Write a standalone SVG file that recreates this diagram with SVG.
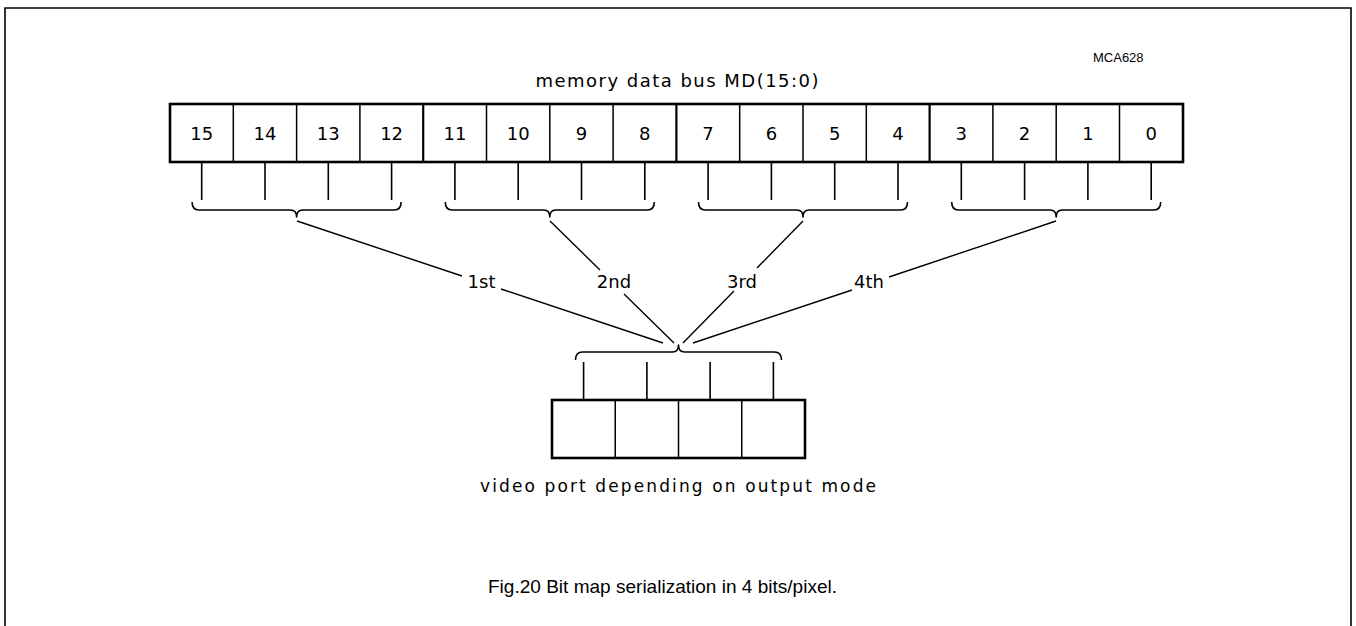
<svg xmlns="http://www.w3.org/2000/svg" width="1356" height="626" viewBox="0 0 1356 626">
<style>
.t{font-family:"DejaVu Sans","Liberation Sans",sans-serif;fill:#000}
.num{font-size:18px;text-anchor:middle}
.lbl{font-size:18px;text-anchor:middle}
.cap{font-family:"Liberation Sans",Arial,sans-serif;font-size:19px;fill:#000}
.outer{fill:#fff;stroke:#000;stroke-width:2.6}
.div{stroke:#000;stroke-width:1.5}
.gdiv{stroke:#000;stroke-width:2.2}
.tick{stroke:#000;stroke-width:1.6}
.brace{fill:none;stroke:#000;stroke-width:1.6;stroke-linejoin:round}
.conn{stroke:#000;stroke-width:1.4;fill:none}
</style>
<rect x="0" y="0" width="1356" height="626" fill="#fff"/>
<path d="M5,640 L5,8 L1351,8 L1351,640" fill="none" stroke="#000" stroke-width="1.6"/>
<text x="1093" y="62" style="font-family:'Liberation Sans',Arial,sans-serif;font-size:13px;fill:#000">MCA628</text>

<g id="memory-bus">
<text class="t" x="677" y="87" font-size="18" text-anchor="middle" textLength="283" lengthAdjust="spacing">memory data bus MD(15:0)</text>
<rect class="outer" x="170" y="104" width="1013" height="58"/>
<g>
<line class="div" x1="233.3" y1="104" x2="233.3" y2="162"/>
<line class="div" x1="296.6" y1="104" x2="296.6" y2="162"/>
<line class="div" x1="359.9" y1="104" x2="359.9" y2="162"/>
<line class="gdiv" x1="423.2" y1="104" x2="423.2" y2="162"/>
<line class="div" x1="486.5" y1="104" x2="486.5" y2="162"/>
<line class="div" x1="549.8" y1="104" x2="549.8" y2="162"/>
<line class="div" x1="613.1" y1="104" x2="613.1" y2="162"/>
<line class="gdiv" x1="676.4" y1="104" x2="676.4" y2="162"/>
<line class="div" x1="739.7" y1="104" x2="739.7" y2="162"/>
<line class="div" x1="803" y1="104" x2="803" y2="162"/>
<line class="div" x1="866.3" y1="104" x2="866.3" y2="162"/>
<line class="gdiv" x1="929.6" y1="104" x2="929.6" y2="162"/>
<line class="div" x1="992.9" y1="104" x2="992.9" y2="162"/>
<line class="div" x1="1056.2" y1="104" x2="1056.2" y2="162"/>
<line class="div" x1="1119.5" y1="104" x2="1119.5" y2="162"/>
</g>
<g class="t num">
<text x="201.7" y="140">15</text>
<text x="265" y="140">14</text>
<text x="328.3" y="140">13</text>
<text x="391.6" y="140">12</text>
<text x="454.9" y="140">11</text>
<text x="518.2" y="140">10</text>
<text x="581.5" y="140">9</text>
<text x="644.8" y="140">8</text>
<text x="708.1" y="140">7</text>
<text x="771.4" y="140">6</text>
<text x="834.7" y="140">5</text>
<text x="898" y="140">4</text>
<text x="961.3" y="140">3</text>
<text x="1024.6" y="140">2</text>
<text x="1087.9" y="140">1</text>
<text x="1151.2" y="140">0</text>
</g>
</g>

<g id="group-1">
<path class="tick" d="M201.7,162V200M265,162V200M328.3,162V200M391.6,162V200"/>
<path class="brace" d="M192.1,202 Q192.1,210 199,210 L290.6,210 Q296.6,210 296.6,217 Q296.6,210 302.6,210 L394.2,210 Q401.1,210 401.1,202"/>
</g>
<g id="group-2">
<path class="tick" d="M454.9,162V200M518.2,162V200M581.5,162V200M644.8,162V200"/>
<path class="brace" d="M445.3,202 Q445.3,210 452.2,210 L543.8,210 Q549.8,210 549.8,217 Q549.8,210 555.8,210 L647.4,210 Q654.3,210 654.3,202"/>
</g>
<g id="group-3">
<path class="tick" d="M708.1,162V200M771.4,162V200M834.7,162V200M898,162V200"/>
<path class="brace" d="M698.5,202 Q698.5,210 705.4,210 L797,210 Q803,210 803,217 Q803,210 809,210 L900.6,210 Q907.5,210 907.5,202"/>
</g>
<g id="group-4">
<path class="tick" d="M961.3,162V200M1024.6,162V200M1087.9,162V200M1151.2,162V200"/>
<path class="brace" d="M951.7,202 Q951.7,210 958.6,210 L1050.2,210 Q1056.2,210 1056.2,217 Q1056.2,210 1062.2,210 L1153.8,210 Q1160.7,210 1160.7,202"/>
</g>

<g id="connectors">
<path class="conn" d="M297,221 L462,276 M501,289 L663,343"/>
<path class="conn" d="M550,221 L600,270 M624,294 L674,343"/>
<path class="conn" d="M803,221 L757,268 M734,291 L683,343"/>
<path class="conn" d="M1056,221 L889,277 M852,290 L693,343"/>
</g>
<g id="labels" class="t lbl">
<text x="481.5" y="288">1st</text>
<text x="614" y="288">2nd</text>
<text x="742" y="288">3rd</text>
<text x="869" y="288">4th</text>
</g>

<g id="video-port">
<path class="brace" d="M575.5,360 Q575.5,352 582.5,352 L672.5,352 Q678.5,352 678.5,345 Q678.5,352 684.5,352 L774.5,352 Q781.5,352 781.5,360"/>
<path class="tick" d="M583.6,362V399M646.9,362V399M710.1,362V399M773.4,362V399"/>
<rect class="outer" x="552" y="400" width="253" height="58"/>
<line class="div" x1="615.25" y1="400" x2="615.25" y2="458"/>
<line class="div" x1="678.5" y1="400" x2="678.5" y2="458"/>
<line class="div" x1="741.75" y1="400" x2="741.75" y2="458"/>
<text class="t" x="678" y="492" font-size="17" text-anchor="middle" textLength="396" lengthAdjust="spacing">video port depending on output mode</text>
</g>

<text class="cap" x="488" y="593" textLength="349" lengthAdjust="spacingAndGlyphs">Fig.20 Bit map serialization in 4 bits/pixel.</text>
</svg>
